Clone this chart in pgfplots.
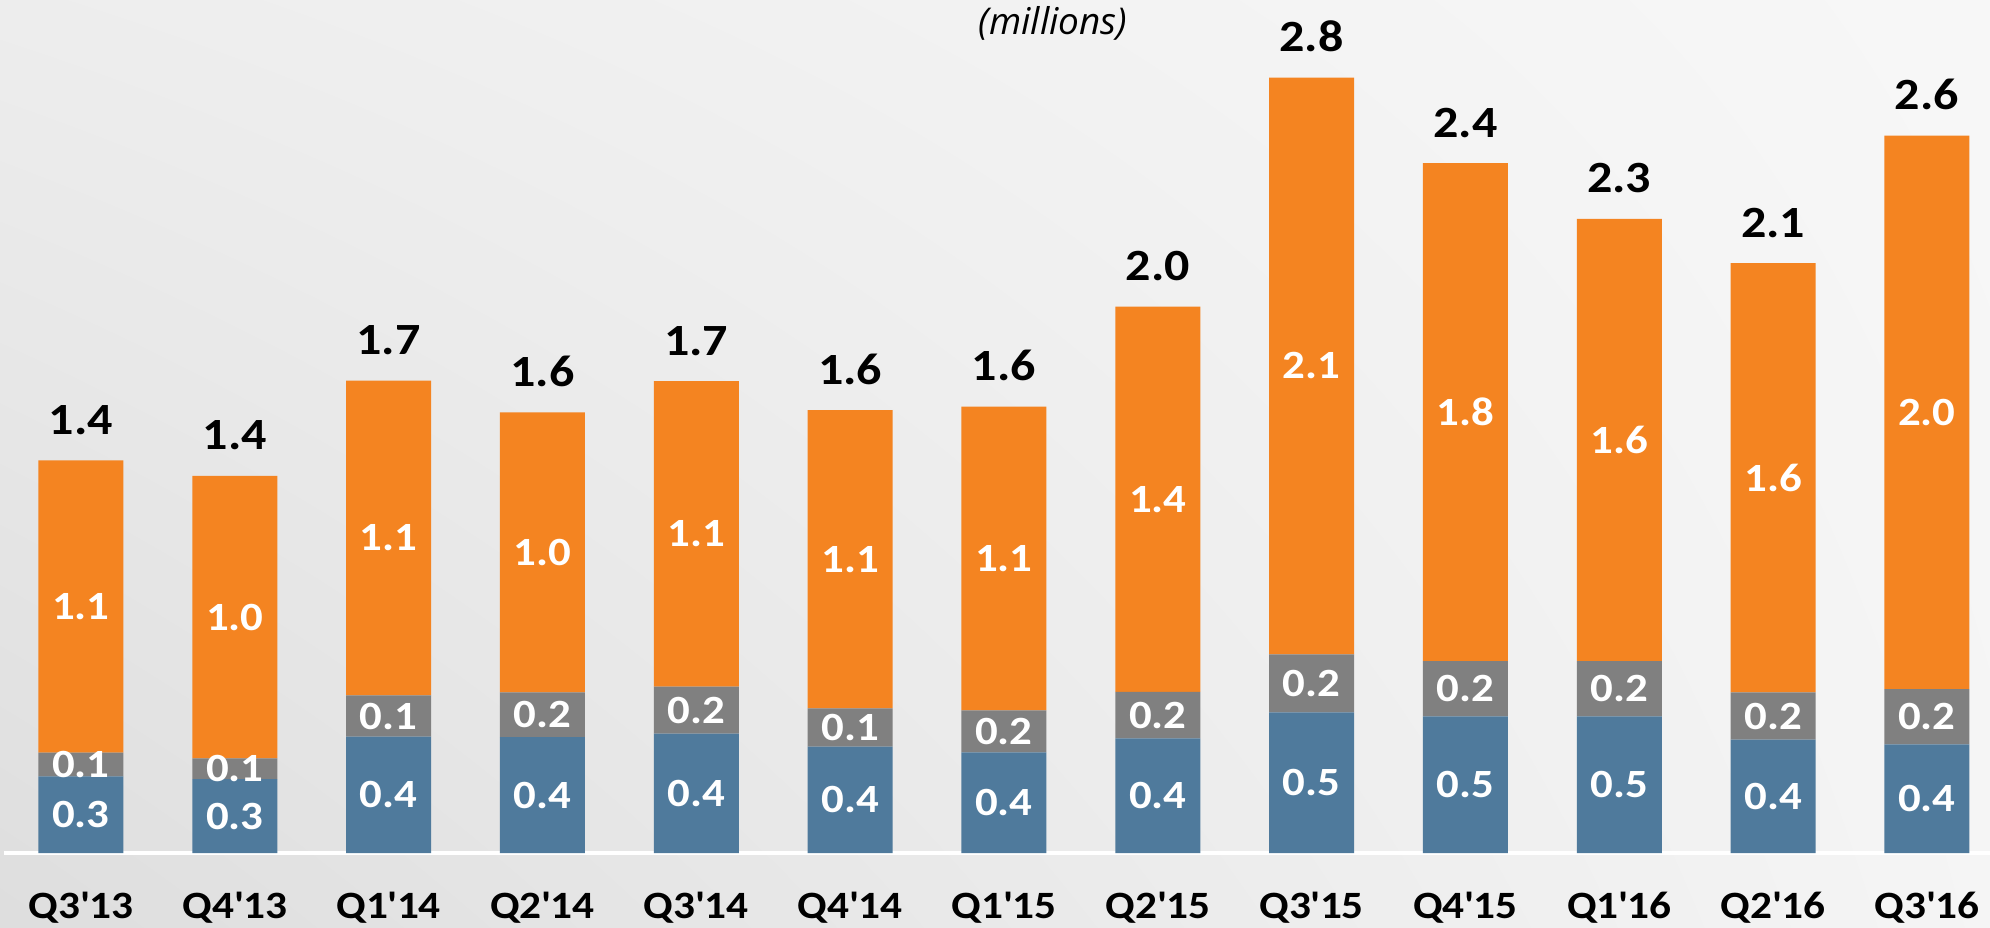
\documentclass[border=0pt]{standalone}
\usepackage{fontspec}
\setmainfont{Carlito}
\newfontfamily\lblfont{Carlito}[FakeStretch=1.12]
\newfontfamily\capfont{Open Sans}
\usepackage{pgfplots}
\pgfplotsset{compat=1.18}
\usepackage{pgfplotstable}
\usetikzlibrary{backgrounds,shadings}
\definecolor{ubblue}{HTML}{4F7A9C}
\definecolor{ubgray}{HTML}{808080}
\definecolor{uborange}{HTML}{F48421}

% b = bottom (blue), g = middle (grey), o = top (orange); *l = printed labels
\pgfplotstableread{
x  b     g     o     bl  gl  ol  tl
0  0.277 0.085 1.056 0.3 0.1 1.1 1.4
1  0.267 0.075 1.020 0.3 0.1 1.0 1.4
2  0.420 0.149 1.137 0.4 0.1 1.1 1.7
3  0.418 0.162 1.011 0.4 0.2 1.0 1.6
4  0.431 0.170 1.103 0.4 0.2 1.1 1.7
5  0.384 0.138 1.077 0.4 0.1 1.1 1.6
6  0.363 0.152 1.097 0.4 0.2 1.1 1.6
7  0.414 0.168 1.391 0.4 0.2 1.4 2.0
8  0.508 0.209 2.083 0.5 0.2 2.1 2.8
9  0.493 0.200 1.798 0.5 0.2 1.8 2.4
10 0.493 0.200 1.597 0.5 0.2 1.6 2.3
11 0.409 0.171 1.550 0.4 0.2 1.6 2.1
12 0.392 0.200 1.998 0.4 0.2 2.0 2.6
}\units

\begin{document}
\begin{tikzpicture}
\pgfplotsset{base/.style={at={(0.4mm,0)}, anchor=south west, scale only axis,
  width=198.6mm, height=85.3mm, xmin=-0.5, xmax=12.41, ymin=0, ymax=3.08}}
\def\q{\textquotesingle}

% ---- stacked bars ----
\begin{axis}[base,
  ybar stacked, bar width=8.5mm,
  axis y line=none, axis x line*=bottom,
  x axis line style={-, draw=white, line width=1.2pt},
  xtick={0,...,12},
  xticklabels={Q3\q13,Q4\q13,Q1\q14,Q2\q14,Q3\q14,Q4\q14,Q1\q15,Q2\q15,Q3\q15,Q4\q15,Q1\q16,Q2\q16,Q3\q16},
  xtick style={draw=none},
  xticklabel style={anchor=base, yshift=-6.5mm, font=\lblfont\fontsize{11}{13}\selectfont\bfseries},
  extra x ticks={-0.5,0.5,...,11.5},
  extra x tick labels={},
  extra x tick style={major tick length=1.5mm, tick align=outside,
    tick style={draw=white, line width=1pt}},
]
\addplot[fill=ubblue, draw=none] table[x=x, y=b]{\units};
\addplot[fill=ubgray, draw=none] table[x=x, y=g]{\units};
\addplot[fill=uborange, draw=none] table[x=x, y=o]{\units};
\end{axis}

% ---- value labels ----
\begin{axis}[base, hide axis, clip=false, point meta=explicit symbolic]
\addplot[only marks, mark=none, nodes near coords,
  nodes near coords style={anchor=center, text=white, font=\lblfont\fontsize{11.4}{13}\selectfont\bfseries}]
  table[x=x, y expr=\thisrow{b}/2, meta=bl]{\units};
\addplot[only marks, mark=none, nodes near coords,
  nodes near coords style={anchor=center, text=white, font=\lblfont\fontsize{11.4}{13}\selectfont\bfseries}]
  table[x=x, y expr=\thisrow{b}+\thisrow{g}/2, meta=gl]{\units};
\addplot[only marks, mark=none, nodes near coords,
  nodes near coords style={anchor=center, text=white, font=\lblfont\fontsize{11.4}{13}\selectfont\bfseries}]
  table[x=x, y expr=\thisrow{b}+\thisrow{g}+\thisrow{o}/2, meta=ol]{\units};
\addplot[only marks, mark=none, nodes near coords,
  nodes near coords style={anchor=south, inner sep=0pt, yshift=2.5mm, text=black, font=\lblfont\fontsize{12.7}{14}\selectfont\bfseries}]
  table[x=x, y expr=\thisrow{b}+\thisrow{g}+\thisrow{o}, meta=tl]{\units};
\end{axis}

\node[font=\capfont\itshape\fontsize{10.5}{12}\selectfont] at (105.3mm,83.0mm) {(millions)};

\begin{pgfonlayer}{background}
  \shade[upper left=black!7, upper right=black!3, lower left=black!13, lower right=black!4]
    (0,-7.4mm) rectangle (199mm,85.3mm);
\end{pgfonlayer}
\pgfresetboundingbox
\path (0,-7.4mm) rectangle (199mm,85.3mm);
\end{tikzpicture}
\end{document}
